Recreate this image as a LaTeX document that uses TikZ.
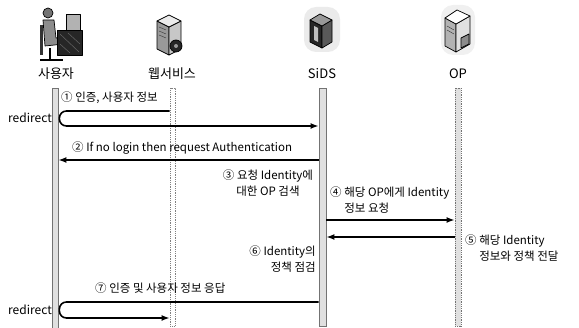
\documentclass[tikz,border=0pt]{standalone}
\usepackage{fontspec}
\setmainfont{Noto Sans CJK KR}
\usetikzlibrary{arrows.meta,positioning,calc}

\begin{document}
\begin{tikzpicture}[x=1pt,y=-1pt,
    every node/.style={font=\fontsize{11.5}{15.5}\selectfont, inner sep=0pt},
    actor/.style={font=\fontsize{13}{15}\selectfont},
    lifeline/.style={draw=black!55, fill=black!12, line width=0.8pt, inner sep=0pt},
    msg/.style={line width=1.6pt, -{Latex[length=8pt,width=6pt]}},
    redir/.style={msg, rounded corners=7pt},
    face/.style={draw=black, line width=0.7pt, line join=round},
  ]
  \useasboundingbox (0,0) rectangle (579,328);

  % icons
  % user at desk
  \fill[black!80] (40,25) rectangle (43,55);
  \draw[line width=1.5pt] (40,60) -- (63,60) (50,48) -- (50,60);
  \filldraw[face, fill=black!55] (48,13) circle (5pt);
  \filldraw[face, fill=black!45] (43,20) -- (54,20) -- (56,38) -- (64,38) -- (64,44) -- (45,46) -- cycle;
  \filldraw[face, fill=black!85] (57,30) rectangle (82,55);
  \filldraw[face, fill=black!30] (66,14) rectangle (80,30);
  \draw[black!60, line width=0.5pt] (60,34) -- (79,52) (60,44) -- (70,53) (68,33) -- (80,44);

  % web server
  \begin{scope}[shift={(170,33)}]
    \filldraw[face, fill=black!40] (-13,-12) -- (-1,-6) -- (-1,22) -- (-13,16) -- cycle;
    \filldraw[face, fill=black!22] (-1,-6) -- (11,-12) -- (11,16) -- (-1,22) -- cycle;
    \filldraw[face, fill=black!8] (-13,-12) -- (-1,-18) -- (11,-12) -- (-1,-6) -- cycle;
    \foreach \s in {0,4,8} \draw[black!80] (-11,-6+\s) -- (-4,-3+\s);
    \filldraw[face, fill=black!85] (6,13) circle (6pt);
    \fill[black!40] (6,13) circle (2pt);
  \end{scope}

  % SIDS server
  \begin{scope}[shift={(322,30)}]
    \fill[black!8, rounded corners=12pt] (-18,-23) rectangle (18,22);
    \filldraw[face, fill=black!85] (-12,-10) -- (0,-4) -- (0,18) -- (-12,12) -- cycle;
    \filldraw[face, fill=black!65] (0,-4) -- (10,-10) -- (10,12) -- (0,18) -- cycle;
    \filldraw[face, fill=black!40] (-12,-10) -- (-2,-16) -- (10,-10) -- (0,-4) -- cycle;
    \fill[black!25] (-8,-4) -- (-4,-2) -- (-4,12) -- (-8,10) -- cycle;
  \end{scope}

  % OP server
  \begin{scope}[shift={(458,30)}]
    \fill[black!6, rounded corners=12pt] (-17,-25) rectangle (17,25);
    \filldraw[face, fill=black!30] (-13,-12) -- (-2,-6) -- (-2,22) -- (-13,16) -- cycle;
    \filldraw[face, fill=black!12] (-2,-6) -- (12,-14) -- (12,14) -- (-2,22) -- cycle;
    \filldraw[face, fill=white] (-13,-12) -- (-1,-20) -- (12,-14) -- (-2,-6) -- cycle;
    \filldraw[face, fill=black!45] (3,8) -- (11,4) -- (11,14) -- (3,18) -- cycle;
    \foreach \s in {0,4} \draw[black!80] (-11,-4+\s) -- (-4,0+\s);
  \end{scope}

  % actors
  \node (userlbl) [actor] at (56,74) {사용자};
  \node (weblbl) [actor] at (172,74) {웹서비스};
  \node (sidslbl) [actor] at (322,74) {SiDS};
  \node (oplbl) [actor] at (458,74) {OP};

  % lifelines
  \node (user) [lifeline, minimum width=6pt, minimum height=240pt] at (55,208) {};
  \node (web) [lifeline, draw=black!50, fill=none, densely dotted, minimum width=5pt, minimum height=238pt] at (172.5,207) {};
  \node (sids) [lifeline, minimum width=7pt, minimum height=238pt] at (322.5,207) {};
  \node (op) [lifeline, densely dotted, minimum width=6pt, minimum height=238pt] at (458,207) {};

  % message rows
  \coordinate (r1) at (0,111);
  \coordinate (r1b) at (0,126);
  \coordinate (r2) at (0,160);
  \coordinate (r4) at (0,220);
  \coordinate (r5) at (0,237);
  \coordinate (r7) at (0,302);
  \coordinate (r7b) at (0,318);

  \draw[redir] (web.west |- r1) -- ([xshift=1pt]user.east |- r1) |- (sids.west |- r1b);
  \draw[msg] (sids.west |- r2) -- (user.east |- r2);
  \draw[msg] (sids.east |- r4) -- (op.west |- r4);
  \draw[msg] (op.west |- r5) -- (sids.east |- r5);
  \draw[redir] (sids.west |- r7) -- ([xshift=1pt]user.east |- r7) |- (web.west |- r7b);

  % labels
  \node (t1) [anchor=west] at (61,98) {① 인증, 사용자 정보};
  \node (redir1) [anchor=east, font=\fontsize{12}{14}\selectfont] at (52,118) {redirect};
  \node (t2) [anchor=west] at (72,148) {② If no login then request Authentication};
  \node (t3) [align=center] at (268,183) {③ 요청 Identity에\\대한 OP 검색};
  \node (t4) [align=left, anchor=west] at (330,200) {④ 해당 OP에게 Identity\\\hphantom{④ }정보 요청};
  \node (t5) [align=left, anchor=west] at (465,248) {⑤ 해당 Identity\\\hphantom{⑤ }정보와 정책 전달};
  \node (t6) [align=right, anchor=east] at (316,259) {⑥ Identity의\\정책 점검};
  \node (t7) [anchor=west] at (95,288) {⑦ 인증 및 사용자 정보 응답};
  \node (redir2) [anchor=east, font=\fontsize{12}{14}\selectfont] at (52,310) {redirect};
\end{tikzpicture}
\end{document}
